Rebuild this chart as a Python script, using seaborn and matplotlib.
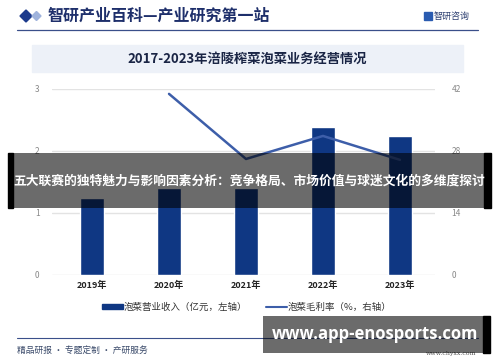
import matplotlib
matplotlib.use("Agg")
import matplotlib.pyplot as plt
from matplotlib.patches import Rectangle, Polygon
from matplotlib.lines import Line2D
import seaborn as sns
import numpy as np
import pandas as pd

years = ["2019年", "2020年", "2021年", "2022年", "2023年"]
revenue = [1.24, 1.40, 1.40, 2.39, 2.24]          # 泡菜营业收入（亿元）
margin = [np.nan, 40.9, 26.2, 31.4, 26.0]          # 泡菜毛利率（%）
left_ticks = [0, 1, 2, 3]
right_ticks = [0, 14, 28, 42]

title_main = "智研产业百科—产业研究第一站"
subtitle = "2017-2023年涪陵榨菜泡菜业务经营情况"
legend_bar = "泡菜营业收入（亿元，左轴）"
legend_line = "泡菜毛利率（%，右轴）"
overlay_text = "五大联赛的独特魅力与影响因素分析：竞争格局、市场价值与球迷文化的多维度探讨"
footer_text = "精品研报 · 专题定制 · 产研服务"
site_text = "www.app-enosports.com"

sns.set_theme(style="white")
plt.rcParams['font.family'] = ['Noto Sans CJK SC', 'DejaVu Sans']

W, H = 500, 362
fig = plt.figure(figsize=(W / 100, H / 100), dpi=100)
fig.patch.set_facecolor("white")

def fx(x): return x / W
def fy(y): return 1 - y / H

BAR = "#0f3783"
LINE = "#3d5ea9"
NAVY = "#1e2f6b"

df = pd.DataFrame({"year": years, "revenue": revenue, "margin": margin})

ax = fig.add_axes([fx(52), fy(275), fx(435) - fx(52), fy(89) - fy(275)])
sns.barplot(data=df, x="year", y="revenue", ax=ax, color=BAR, width=0.31,
            saturation=1, zorder=3)
ax.set_xlim(-0.52, 4.455)
ax.set_ylim(0, 3)
ax.set_yticks(left_ticks)
ax.set_yticklabels([str(t) for t in left_ticks], fontsize=6, color="#888888")
ax.tick_params(axis="y", length=0, pad=9)
ax.tick_params(axis="x", length=0, pad=4, labelsize=6.5, labelcolor="#222222")
for lbl in ax.get_xticklabels():
    lbl.set_fontweight("bold")
ax.grid(axis="y", color="#e3e3e3", linewidth=1, zorder=0)
ax.set_xlabel("")
ax.set_ylabel("")
for s in ax.spines.values():
    s.set_visible(False)

ax2 = ax.twinx()
pos = np.arange(len(years))
sns.lineplot(x=pos, y=df["margin"].values, ax=ax2, color=LINE, linewidth=1.8, zorder=4)
ax2.set_ylim(0, 42)
ax2.set_yticks(right_ticks)
ax2.set_yticklabels([str(t) for t in right_ticks], fontsize=6, color="#888888")
ax2.tick_params(axis="y", length=0, pad=12)
ax2.set_ylabel("")
for s in ax2.spines.values():
    s.set_visible(False)
ax.set_xlim(-0.52, 4.455)

# legend
handles = [Rectangle((0, 0), 1, 1, color=BAR), Line2D([0], [0], color=LINE, lw=1.5)]
fig.legend(handles, [legend_bar, legend_line], loc="center",
           bbox_to_anchor=(fx(247), fy(307)), ncol=2, frameon=False,
           fontsize=6.8, handlelength=2.2, handleheight=0.5, handletextpad=0.1,
           columnspacing=2.0, labelcolor="#333333")

# header
fig.patches.append(Polygon([[fx(20), fy(16)], [fx(26), fy(10)], [fx(32), fy(16)], [fx(26), fy(22)]],
                           closed=True, color="#1c3a8c", transform=fig.transFigure))
fig.patches.append(Polygon([[fx(32), fy(16)], [fx(36.5), fy(11.5)], [fx(41), fy(16)], [fx(36.5), fy(20.5)]],
                           closed=True, color="#9fb3dc", transform=fig.transFigure))
fig.text(fx(48), fy(16), title_main, fontsize=11.5, color=NAVY, fontweight="bold",
         va="center", ha="left")
fig.patches.append(Rectangle((fx(424), fy(20)), fx(8), fy(12) - fy(20), color="#2a5bb0",
                             transform=fig.transFigure))
fig.text(fx(434), fy(16), "智研咨询", fontsize=6.5, color="#2c3e70", va="center", ha="left")
fig.add_artist(Line2D([fx(17), fx(478)], [fy(30), fy(30)], color="#3a4f8a", lw=0.9,
                      transform=fig.transFigure))

# subtitle band
fig.patches.append(Rectangle((fx(32), fy(72)), fx(463) - fx(32), fy(45) - fy(72),
                             color="#edf1f8", transform=fig.transFigure, zorder=0))
fig.text(fx(247), fy(59), subtitle, fontsize=9.5, color="#1a2545", fontweight="bold",
         va="center", ha="center")

# footer
fig.add_artist(Line2D([fx(17), fx(478)], [fy(338), fy(338)], color="#3a4f8a", lw=0.8,
                      transform=fig.transFigure))
fig.text(fx(17), fy(350), footer_text, fontsize=6.3, color="#3a4a6a", va="center", ha="left")
fig.text(fx(476), fy(353), "www.chyxx.com", fontsize=4.5, color="#555555", va="center",
         ha="right", family="DejaVu Serif")

# overlay band
fig.patches.append(Rectangle((fx(13), fy(208)), fx(484) - fx(13), fy(153) - fy(208),
                             facecolor="black", alpha=0.58, transform=fig.transFigure,
                             zorder=10, edgecolor="none"))
fig.patches.append(Rectangle((fx(8), fy(208)), fx(5), fy(153) - fy(208), color="black",
                             transform=fig.transFigure, zorder=10))
fig.patches.append(Rectangle((fx(484), fy(208)), fx(7), fy(153) - fy(208), color="black",
                             transform=fig.transFigure, zorder=10))
fig.text(fx(249), fy(181), overlay_text, fontsize=9.2, color="white", fontweight="bold",
         va="center", ha="center", zorder=11)

# site box
fig.patches.append(Rectangle((fx(263), fy(353)), fx(483) - fx(263), fy(316) - fy(353),
                             facecolor="black", alpha=0.58, transform=fig.transFigure,
                             zorder=10, edgecolor="none"))
fig.patches.append(Rectangle((fx(483), fy(353)), fx(7), fy(316) - fy(353), color="black",
                             transform=fig.transFigure, zorder=10))
fig.text(fx(375), fy(334), site_text, fontsize=12, color="white", fontweight="bold",
         va="center", ha="center", family="Open Sans", zorder=11)

fig.savefig("out.png", dpi=100)
